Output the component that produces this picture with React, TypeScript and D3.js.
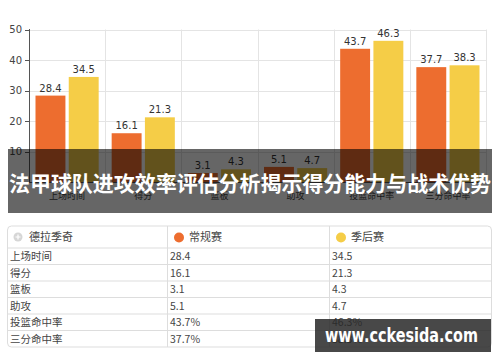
import React from 'react';
import * as d3 from 'd3';

// 数据
const categories = ['上场时间', '得分', '篮板', '助攻', '投篮命中率', '三分命中率'];
const regular = [28.4, 16.1, 3.1, 5.1, 43.7, 37.7];
const playoff = [34.5, 21.3, 4.3, 4.7, 46.3, 38.3];
const regularText = ['28.4', '16.1', '3.1', '5.1', '43.7%', '37.7%'];
const playoffText = ['34.5', '21.3', '4.3', '4.7', '46.3%', '38.3%'];
const seriesNames = ['常规赛', '季后赛'];
const yTicks = [10, 20, 30, 40, 50];
const playerName = '德拉季奇';
const title = '法甲球队进攻效率评估分析揭示得分能力与战术优势';
const watermark = 'www.cckesida.com';

const colors = ['#ED6D2F', '#F5CD47'];
const cjk = "'Noto Sans CJK SC', sans-serif";
const latin = "'DejaVu Sans', sans-serif";

const W = 500;
const H = 362;

export default function App() {
  const x = d3.scaleBand<string>().domain(categories).range([29, 486]);
  const bw = x.bandwidth();
  const xs = d3.scaleBand<string>().domain(seriesNames).range([6.5, bw - 6.5]).paddingInner(0.1);
  const y = d3.scaleLinear().domain([0, 50]).range([182.5, 29.5]);
  const series = [regular, playoff];

  // table geometry
  const tLeft = 7.5, tRight = 491.5, tTop = 226, headH = 22, rowH = 16.5;
  const colX = [tLeft, 167.5, 329.5, tRight];
  const rows = categories.map((c, i) => [c, regularText[i], playoffText[i]]);
  const tBottom = tTop + headH + rowH * rows.length;

  return (
    <svg width={W} height={H} style={{ position: 'absolute', left: 0, top: 0, background: '#fff' }}>
      {/* grid */}
      <g stroke="#e4e4e4" strokeWidth={1}>
        {yTicks.map(t => (
          <line key={t} x1={29} x2={486} y1={Math.round(y(t)) + 0.5} y2={Math.round(y(t)) + 0.5} />
        ))}
        {categories.map(c => (
          <line key={c} x1={Math.round(x(c)! + bw) + 0.5} x2={Math.round(x(c)! + bw) + 0.5} y1={29.5} y2={182.5} />
        ))}
      </g>
      {/* bars */}
      {categories.map((c, i) => (
        <g key={c}>
          {series.map((s, j) => {
            const bx = x(c)! + xs(seriesNames[j])!;
            return (
              <g key={j}>
                <rect x={bx} y={y(s[i])} width={xs.bandwidth()} height={y(0) - y(s[i])} fill={colors[j]} />
                <text x={bx + xs.bandwidth() / 2} y={y(s[i]) - 4} textAnchor="middle" fontSize={10}
                  fontFamily={latin} fill="#333">{s[i].toFixed(1)}</text>
              </g>
            );
          })}
          <text x={x(c)! + bw / 2} y={199} textAnchor="middle" fontSize={9} fontFamily={cjk} fill="#444">{c}</text>
        </g>
      ))}
      {/* y axis */}
      <line x1={29.5} x2={29.5} y1={29} y2={183} stroke="#555" />
      <line x1={29} x2={486} y1={182.5} y2={182.5} stroke="#555" />
      {yTicks.map(t => (
        <g key={t}>
          <line x1={25} x2={29.5} y1={Math.round(y(t)) + 0.5} y2={Math.round(y(t)) + 0.5} stroke="#555" />
          <text x={22} y={y(t) + 3.5} textAnchor="end" fontSize={10} fontFamily={latin} fill="#444">{t}</text>
        </g>
      ))}
      {/* banner */}
      <rect x={8} y={149} width={484} height={64} fill="rgba(0,0,0,0.6)" />
      <text x={9} y={191} fontSize={21} fontWeight={700} fontFamily={cjk} fill="#fff"
        textLength={482} lengthAdjust="spacingAndGlyphs">{title}</text>

      {/* table */}
      <rect x={tLeft} y={tTop} width={tRight - tLeft} height={tBottom - tTop} rx={4} fill="#fff" stroke="#ddd" />
      {rows.map((r, i) => {
        const ry = tTop + headH + i * rowH;
        return (
          <g key={i}>
            <line x1={tLeft} x2={tRight} y1={ry} y2={ry} stroke="#ddd" />
            {r.map((v, k) => (
              <text key={k} x={colX[k] + 2.5} y={ry + 12} fontSize={10.5} fontFamily={cjk} fill="#444">{v}</text>
            ))}
          </g>
        );
      })}
      {colX.slice(1, 3).map((cx, k) => (
        <line key={k} x1={cx} x2={cx} y1={tTop} y2={tBottom} stroke="#ddd" />
      ))}
      {/* header */}
      <circle cx={18} cy={237} r={4.5} fill="#d6d6d6" />
      <path d="M15.5,237H20.5M18,234.5V239.5" stroke="#fff" strokeWidth={1.2} />
      <text x={29} y={241} fontSize={11} fontFamily={cjk} fill="#444">{playerName}</text>
      {seriesNames.map((n, j) => (
        <g key={n}>
          <circle cx={colX[j + 1] + 11.5} cy={237.5} r={5} fill={colors[j]} />
          <text x={colX[j + 1] + 21.5} y={241} fontSize={11} fontFamily={cjk} fill="#444">{n}</text>
        </g>
      ))}

      {/* watermark */}
      <rect x={315} y={319} width={176} height={33} fill="rgba(40,40,40,0.85)" />
      <text x={325} y={342} fontSize={19} fontWeight={700} fontFamily="'DejaVu Sans', sans-serif" fill="#fff"
        textLength={153} lengthAdjust="spacingAndGlyphs">{watermark}</text>
    </svg>
  );
}
